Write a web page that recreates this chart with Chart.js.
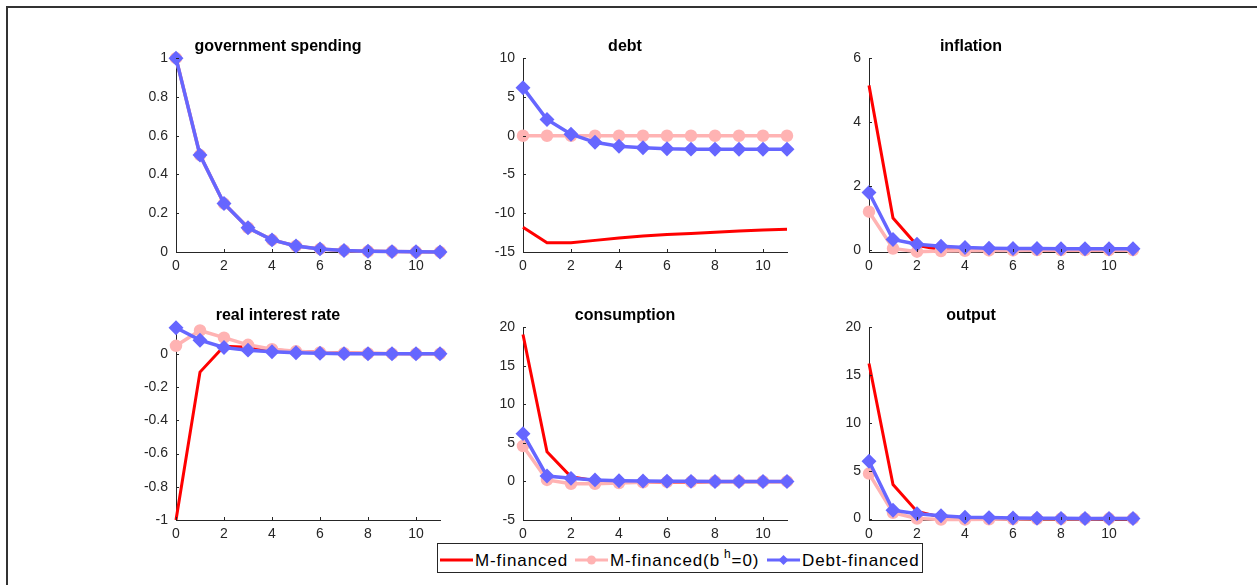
<!DOCTYPE html>
<html>
<head>
<meta charset="utf-8">
<script src="https://cdn.jsdelivr.net/npm/chart.js@4.4.1/dist/chart.umd.min.js"></script>
<style>
body { margin: 0; background: #fff; width: 1257px; height: 585px; overflow: hidden; position: relative; font-family: "Liberation Sans", Arial, sans-serif; }
#frame { position: absolute; left: 6px; top: 6px; width: 1400px; height: 800px; border-top: 2px solid #333; border-left: 2px solid #333; }
.panel { position: absolute; }
#legend { position: absolute; left: 437px; top: 543px; width: 484px; height: 28px; border: 1px solid #262626; background: #fff; z-index: 5; }
#legend svg { position: absolute; top: 10px; }
#legend span { position: absolute; top: 7px; font-size: 17px; line-height: 19px; letter-spacing: 0.9px; color: #000; white-space: nowrap; }
#legend sup { font-size: 12px; line-height: 0; vertical-align: baseline; position: relative; top: -8px; margin-left: 4px; }
</style>
</head>
<body>
<div id="frame"></div>
<div id="legend"></div>
<script>
// horizon (quarters)
const periods = [0, 1, 2, 3, 4, 5, 6, 7, 8, 9, 10, 11];
const seriesNames = ['M-financed', 'M-financed(b^h=0)', 'Debt-financed'];
const seriesColors = ['rgb(255,0,0)', 'rgb(255,179,179)', 'rgb(102,102,255)'];

const spendingM = [1, 0.5, 0.25, 0.125, 0.0625, 0.031, 0.016, 0.008, 0.004, 0.002, 0.001, 0.0005];
const spendingM0 = [1, 0.5, 0.25, 0.125, 0.0625, 0.031, 0.016, 0.008, 0.004, 0.002, 0.001, 0.0005];
const spendingDebt = [1, 0.5, 0.25, 0.125, 0.0625, 0.031, 0.016, 0.008, 0.004, 0.002, 0.001, 0.0005];

const debtM = [-11.8, -13.8, -13.8, -13.5, -13.2, -12.95, -12.75, -12.6, -12.45, -12.3, -12.15, -12.05];
const debtM0 = [0, 0, 0, 0, 0, 0, 0, 0, 0, 0, 0, 0];
const debtDebt = [6.2, 2.1, 0.2, -0.85, -1.35, -1.55, -1.68, -1.73, -1.75, -1.75, -1.75, -1.75];

const inflationM = [5.15, 1.0, 0.15, 0.01, -0.01, -0.01, 0, 0, 0, 0, 0, 0];
const inflationM0 = [1.2, 0.05, -0.05, -0.03, -0.02, -0.01, -0.01, 0, 0, 0, 0, 0];
const inflationDebt = [1.8, 0.33, 0.18, 0.12, 0.08, 0.06, 0.05, 0.05, 0.04, 0.04, 0.04, 0.04];

const rateM = [-1.0, -0.11, 0.045, 0.04, 0.025, 0.015, 0.01, 0.005, 0.003, 0.002, 0.001, 0.001];
const rateM0 = [0.048, 0.14, 0.097, 0.054, 0.028, 0.015, 0.008, 0.004, 0.002, 0.001, 0.001, 0];
const rateDebt = [0.157, 0.082, 0.038, 0.022, 0.012, 0.006, 0.003, 0.001, 0, 0, 0, 0];

const consM = [19.05, 3.85, 0.6, 0.1, -0.1, -0.1, -0.1, -0.1, -0.05, -0.05, -0.05, -0.05];
const consM0 = [4.6, 0.2, -0.3, -0.3, -0.2, -0.1, -0.05, -0.05, 0, 0, 0, 0];
const consDebt = [6.2, 0.7, 0.4, 0.2, 0.1, 0.05, 0.02, 0.01, 0, 0, 0, 0];

const outputM = [16.2, 3.55, 0.75, 0.15, 0, -0.05, -0.05, -0.05, -0.05, -0.05, -0.05, -0.05];
const outputM0 = [4.7, 0.6, 0.0, -0.1, -0.1, -0.08, -0.05, -0.03, -0.02, -0.01, 0, 0];
const outputDebt = [6.0, 0.87, 0.5, 0.3, 0.15, 0.1, 0.05, 0.03, 0.02, 0.01, 0, 0];

const panelTitles = ['government spending', 'debt', 'inflation', 'real interest rate', 'consumption', 'output'];
const panelSeries = [
    [spendingM, spendingM0, spendingDebt],
    [debtM, debtM0, debtDebt],
    [inflationM, inflationM0, inflationDebt],
    [rateM, rateM0, rateDebt],
    [consM, consM0, consDebt],
    [outputM, outputM0, outputDebt]
];
const yMin = [0, -15, -0.06, -1, -5, -0.15];
const yMax = [1, 10, 6, 0.16, 20, 20];
const yStep = [0.2, 5, 2, 0.2, 5, 5];

// layout (pixels)
const colAxis = [176, 523, 869];
const rowTop = [58, 327];
const rowBottom = [252, 520];
const LEFT = 60, TOP = 40, BOTTOM = 30, RIGHT = 20, PLOT_W = 264;

const axisColor = '#262626';
const fontFamily = '"Liberation Sans", Arial, sans-serif';

// MATLAB style ticks pointing into the plot
const insideTicks = {
    id: 'insideTicks',
    afterDraw(chart) {
        const { ctx, chartArea: a } = chart;
        const x = chart.scales.x, y = chart.scales.y;
        ctx.save();
        ctx.strokeStyle = axisColor;
        ctx.lineWidth = 1;
        ctx.beginPath();
        x.ticks.forEach(t => {
            const px = Math.round(x.getPixelForValue(t.value)) + 0.5;
            ctx.moveTo(px, a.bottom);
            ctx.lineTo(px, a.bottom - 3);
        });
        y.ticks.forEach(t => {
            const py = Math.round(y.getPixelForValue(t.value)) + 0.5;
            ctx.moveTo(a.left, py);
            ctx.lineTo(a.left + 3, py);
        });
        ctx.stroke();
        ctx.restore();
    }
};

function makeDataset(i, values) {
    const ds = {
        label: seriesNames[i],
        data: periods.map((t, k) => ({ x: t, y: values[k] })),
        borderColor: seriesColors[i],
        backgroundColor: seriesColors[i],
        borderWidth: i === 0 ? 3 : 3.5,
        pointRadius: 0,
        order: 3 - i, // red at the back, blue on top
        clip: false
    };
    if (i === 1) {
        ds.pointStyle = 'circle';
        ds.pointRadius = 4.5;
    } else if (i === 2) {
        ds.pointStyle = 'rectRot';
        ds.pointRadius = 5;
    }
    return ds;
}

panelTitles.forEach((title, p) => {
    const row = Math.floor(p / 3), col = p % 3;
    const plotH = rowBottom[row] - rowTop[row];
    const w = LEFT + PLOT_W + RIGHT;
    const h = TOP + plotH + BOTTOM;

    const holder = document.createElement('div');
    holder.className = 'panel';
    holder.style.left = (colAxis[col] - LEFT) + 'px';
    holder.style.top = (rowTop[row] - TOP) + 'px';
    const canvas = document.createElement('canvas');
    canvas.width = w;
    canvas.height = h;
    holder.appendChild(canvas);
    document.body.appendChild(holder);

    new Chart(canvas, {
        type: 'line',
        data: {
            datasets: panelSeries[p].map((vals, i) => makeDataset(i, vals))
        },
        options: {
            responsive: false,
            animation: false,
            layout: { padding: { left: 0, right: RIGHT, top: 0, bottom: 0 } },
            plugins: {
                legend: { display: false },
                tooltip: { enabled: false },
                title: {
                    display: true,
                    text: title,
                    color: '#000',
                    font: { family: fontFamily, size: 16, weight: 'bold', lineHeight: 1.2 },
                    padding: { top: 19, bottom: 2 }
                }
            },
            scales: {
                x: {
                    type: 'linear',
                    min: 0,
                    max: 11,
                    grid: { display: false, drawTicks: false },
                    border: { display: true, color: axisColor, width: 1 },
                    ticks: {
                        stepSize: 2,
                        includeBounds: false,
                        maxRotation: 0,
                        padding: 6,
                        color: axisColor,
                        font: { family: fontFamily, size: 14 }
                    },
                    afterFit(scale) { scale.height = BOTTOM; }
                },
                y: {
                    min: yMin[p],
                    max: yMax[p],
                    grid: { display: false, drawTicks: false },
                    border: { display: true, color: axisColor, width: 1 },
                    ticks: {
                        stepSize: yStep[p],
                        includeBounds: false,
                        padding: 8,
                        color: axisColor,
                        font: { family: fontFamily, size: 14 },
                        callback: v => String(+v.toFixed(3))
                    },
                    afterFit(scale) { scale.width = LEFT; }
                }
            }
        },
        plugins: [insideTicks]
    });
});

// legend box under the panels
const legendSlots = [2, 137, 329];
const legend = document.getElementById('legend');
seriesNames.forEach((name, i) => {
    let marker = '';
    if (i === 1) marker = '<circle cx="16.5" cy="6" r="4.5" fill="' + seriesColors[i] + '"/>';
    if (i === 2) marker = '<polygon points="16.5,1 21.5,6 16.5,11 11.5,6" fill="' + seriesColors[i] + '"/>';
    legend.insertAdjacentHTML('beforeend',
        '<svg width="33" height="12" style="left:' + legendSlots[i] + 'px">' +
        '<line x1="0" y1="6" x2="33" y2="6" stroke="' + seriesColors[i] + '" stroke-width="3"/>' + marker + '</svg>' +
        '<span style="left:' + (legendSlots[i] + 35) + 'px">' + name.replace(/\^(\w)/, '<sup>$1</sup>') + '</span>');
});
</script>
</body>
</html>
